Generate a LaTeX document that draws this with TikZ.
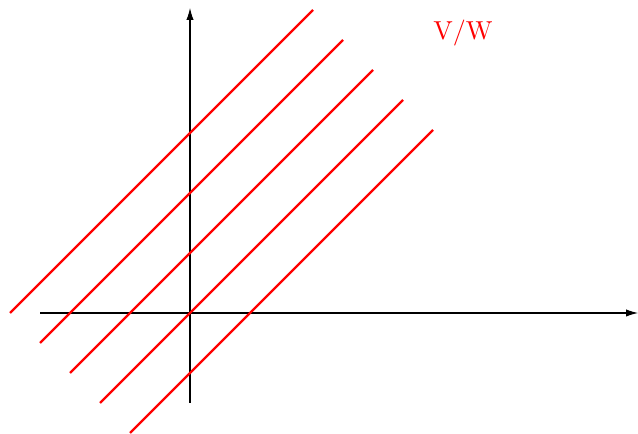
\documentclass[tikz,border=0pt]{standalone}
\usetikzlibrary{arrows.meta}
\begin{document}
\begin{tikzpicture}[x=0.385pt,y=-0.385pt,
  axis/.style={line width=0.4pt,-{Latex[length=4.6pt,width=2.8pt]}},
  redline/.style={red,line width=0.9pt}]
\useasboundingbox (0,0) rectangle (638,434);
\coordinate (xs) at (40,313);
\coordinate (xe) at (638,313);
\coordinate (ys) at (190,403);
\coordinate (ye) at (190,8);
\draw[axis] (xs) -- (xe);
\draw[axis] (ys) -- (ye);
\foreach \i in {0,...,4}{
  \coordinate (a\i) at ({10+30*\i},{313+30*\i});
  \coordinate (b\i) at ({313+30*\i},{10+30*\i});
  \draw[redline] (a\i) -- (b\i);
}
\node[red,anchor=base,inner sep=0pt] (lab) at (463,40) {V/W};
\end{tikzpicture}
\end{document}
